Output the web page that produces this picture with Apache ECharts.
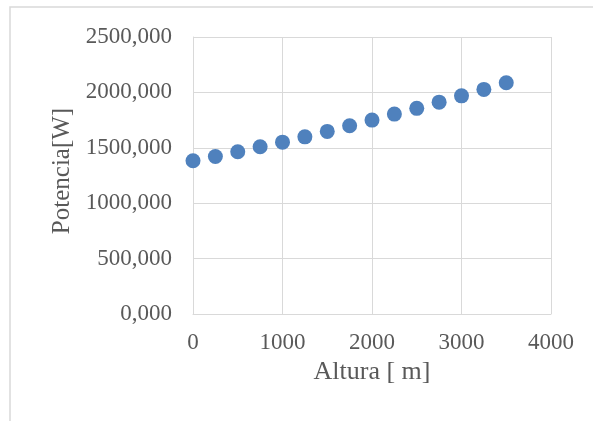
<!DOCTYPE html>
<html>
<head>
<meta charset="utf-8">
<script src="https://cdn.jsdelivr.net/npm/echarts@6/dist/echarts.min.js"></script>
<style>
html,body{margin:0;padding:0;background:#fff;}
#c{width:593px;height:421px;}
</style>
</head>
<body>
<div id="c"></div>
<script>
const altura = [0, 250, 500, 750, 1000, 1250, 1500, 1750, 2000, 2250, 2500, 2750, 3000, 3250, 3500];
const potencia = [1383, 1422, 1464, 1509, 1551, 1599, 1648, 1699, 1750, 1804, 1856, 1912, 1969, 2027, 2087];
const xTitle = 'Altura [ m]';
const yTitle = 'Potencia[W]';

const font = 'Liberation Serif';
const chart = echarts.init(document.getElementById('c'));
chart.setOption({
  animation: false,
  backgroundColor: '#fff',
  graphic: [{
    type: 'rect', z: -10, silent: true,
    shape: {x: 10, y: 7, width: 700, height: 700},
    style: {fill: 'none', stroke: '#d9d9d9', lineWidth: 1.5}
  }],
  grid: {left: 193, right: 42, top: 37, bottom: 107, containLabel: false},
  xAxis: {
    type: 'value', min: 0, max: 4000, interval: 1000,
    name: xTitle, nameLocation: 'middle', nameGap: 44,
    nameTextStyle: {fontFamily: font, fontSize: 26, color: '#595959'},
    axisLine: {show: true, lineStyle: {color: '#d9d9d9', width: 1}},
    axisTick: {show: false},
    splitLine: {show: true, lineStyle: {color: '#d9d9d9', width: 1}},
    axisLabel: {fontFamily: font, fontSize: 23, color: '#595959', margin: 17,
      formatter: v => String(v)}
  },
  yAxis: {
    type: 'value', min: 0, max: 2500, interval: 500,
    name: yTitle, nameLocation: 'middle', nameGap: 118,
    nameTextStyle: {fontFamily: font, fontSize: 25, color: '#595959', padding: [0, 0, 0, 9]},
    axisLine: {show: true, lineStyle: {color: '#d9d9d9', width: 1}},
    axisTick: {show: false},
    splitLine: {show: true, lineStyle: {color: '#d9d9d9', width: 1}},
    axisLabel: {fontFamily: font, fontSize: 23, color: '#595959', margin: 21,
      formatter: v => v.toFixed(3).replace('.', ',')}
  },
  series: [{
    type: 'scatter',
    data: altura.map((a, i) => [a, potencia[i]]),
    symbol: 'circle', symbolSize: 15,
    itemStyle: {color: '#4f81bd', opacity: 1}
  }]
});
</script>
</body>
</html>
